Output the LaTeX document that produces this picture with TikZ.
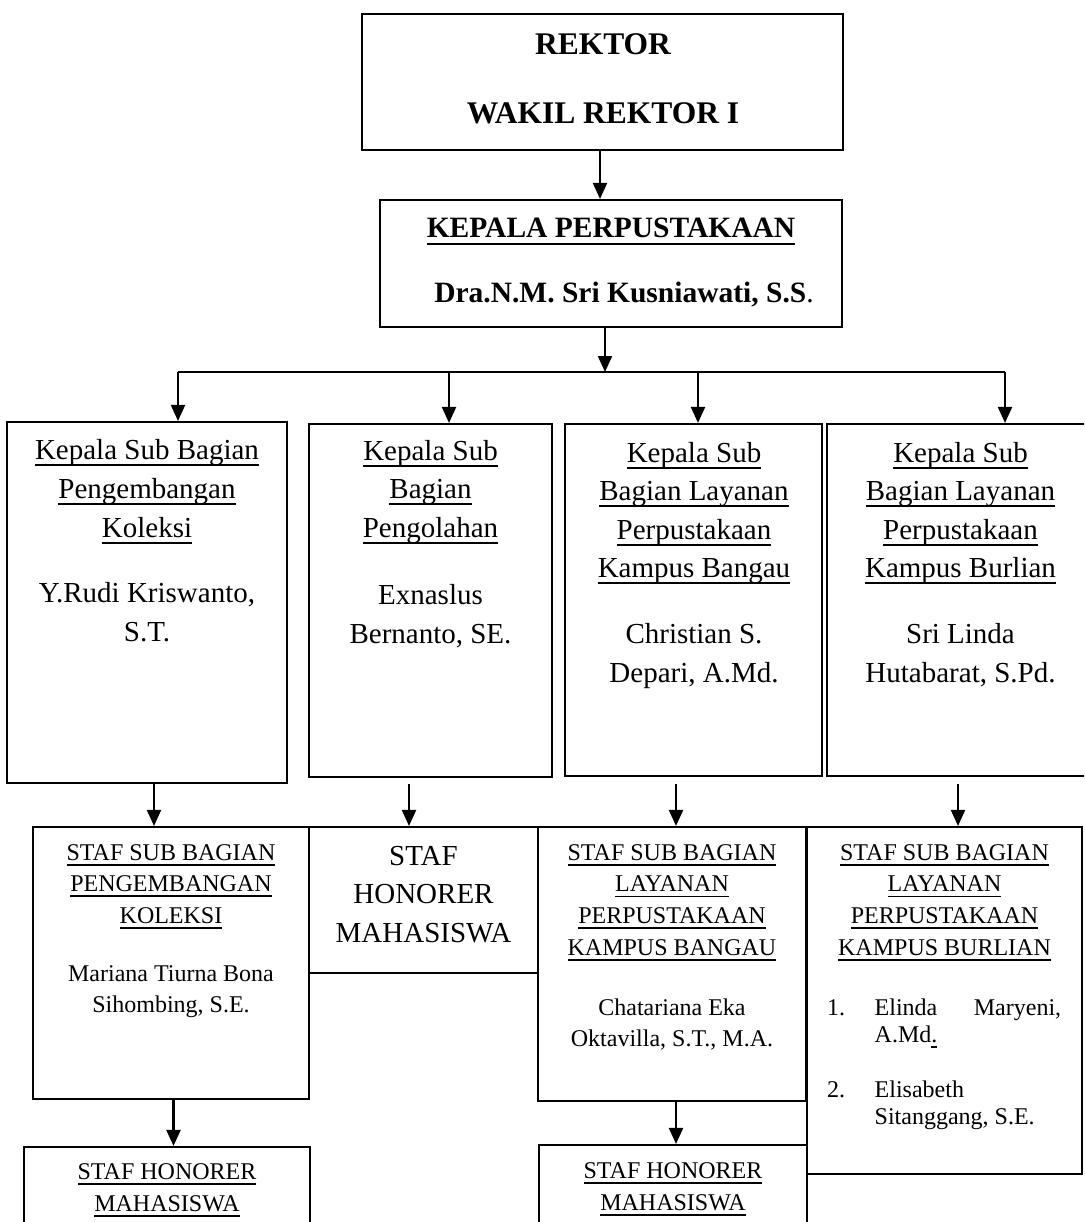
\documentclass[tikz,border=0pt]{standalone}
\usepackage{fontspec}
\setmainfont{Liberation Serif}
\usetikzlibrary{arrows.meta}
\newcommand\fsz[2]{\fontsize{#1}{#2}\selectfont}
\newcommand\uln[1]{\leavevmode\begingroup\setbox0=\hbox{#1}\rlap{\rule[-0.24em]{\wd0}{0.075em}}\box0\endgroup}
\tikzset{
  box/.style={draw, rectangle, line width=2.1pt, inner sep=0pt},
  arr/.style={line width=2.1pt, -{Triangle[length=16pt,width=14pt]}},
  conn/.style={line width=2.1pt},
  txt/.style={anchor=base, inner sep=0pt},
}
\begin{document}
\begin{tikzpicture}[x=1pt,y=-1pt]
\useasboundingbox (0,0) rectangle (1084,1222);
\clip (0,0) rectangle (1084,1222);

% boxes
\node[box, minimum width=481pt, minimum height=136pt] (rek) at (602.5,82) {};
\node[box, minimum width=462pt, minimum height=127pt] (kep) at (611,263.5) {};
\node[box, minimum width=280pt, minimum height=361pt] (k1) at (147,602.5) {};
\node[box, minimum width=243pt, minimum height=353pt] (k2) at (430.5,600.5) {};
\node[box, minimum width=257pt, minimum height=352pt] (k3) at (693.5,600) {};
\node[box, minimum width=267pt, minimum height=352pt] (k4) at (960.5,600) {};
\node[box, minimum width=276pt, minimum height=272pt] (s1) at (171,963) {};
\node[box, minimum width=229pt, minimum height=146pt] (s2) at (423.5,900) {};
\node[box, minimum width=268pt, minimum height=274pt] (s3) at (672,964) {};
\node[box, minimum width=275pt, minimum height=347pt] (s4) at (944.5,1000.5) {};
\node[box, minimum width=286pt, minimum height=113pt] (h1) at (167,1203.5) {};
\node[box, minimum width=268pt, minimum height=115pt] (h3) at (673,1202.5) {};

% texts
\node[txt] (trek) at (603,55) {\parbox[t]{470pt}{\centering\fsz{31.5}{69}\bfseries REKTOR\\WAKIL REKTOR I}};
\node[txt] (tkep) at (611,238) {\parbox[t]{460pt}{\centering\fsz{29.5}{65}\bfseries\uln{KEPALA PERPUSTAKAAN}\\\hspace*{26pt}Dra.N.M. Sri Kusniawati, S.S{\mdseries .}}};
\node[txt] (tk1) at (147,459) {\parbox[t]{300pt}{\centering\fsz{29}{39}\uln{Kepala Sub Bagian}\\\uln{Pengembangan}\\\uln{Koleksi}\\[26pt]Y.Rudi Kriswanto,\\S.T.}};
\node[txt] (tk2) at (430.5,460) {\parbox[t]{300pt}{\centering\fsz{29}{38.5}\uln{Kepala Sub}\\\uln{Bagian}\\\uln{Pengolahan}\\[29pt]Exnaslus\\Bernanto, SE.}};
\node[txt] (tk3) at (694,462) {\parbox[t]{300pt}{\centering\fsz{29}{38.5}\uln{Kepala Sub}\\\uln{Bagian Layanan}\\\uln{Perpustakaan}\\\uln{Kampus Bangau}\\[27.5pt]Christian S.\\Depari, A.Md.}};
\node[txt] (tk4) at (960.5,462) {\parbox[t]{300pt}{\centering\fsz{29}{38.5}\uln{Kepala Sub}\\\uln{Bagian Layanan}\\\uln{Perpustakaan}\\\uln{Kampus Burlian}\\[27.5pt]Sri Linda\\Hutabarat, S.Pd.}};
\node[txt] (ts1) at (171,860) {\parbox[t]{300pt}{\centering\fsz{24}{31.5}\uln{STAF SUB BAGIAN}\\\uln{PENGEMBANGAN}\\\uln{KOLEKSI}\\[26.5pt]Mariana Tiurna Bona\\Sihombing, S.E.}};
\node[txt] (ts2) at (423.5,865) {\parbox[t]{300pt}{\centering\fsz{29}{38.5}STAF\\HONORER\\MAHASISWA}};
\node[txt] (ts3) at (672,860) {\parbox[t]{300pt}{\centering\fsz{24}{31.7}\uln{STAF SUB BAGIAN}\\\uln{LAYANAN}\\\uln{PERPUSTAKAAN}\\\uln{KAMPUS BANGAU}\\[28.3pt]Chatariana Eka\\Oktavilla, S.T., M.A.}};
\node[txt] (ts4) at (944.5,860) {\parbox[t]{300pt}{\centering\fsz{24}{31.7}\uln{STAF SUB BAGIAN}\\\uln{LAYANAN}\\\uln{PERPUSTAKAAN}\\\uln{KAMPUS BURLIAN}}};
\node[anchor=base west, inner sep=0pt] (tlist) at (827,1015) {\parbox[t]{234pt}{\fsz{24}{27}\makebox[47.5pt][l]{1.}Elinda\hfill Maryeni,\\\hspace*{47.5pt}A.Md\uln{.}\\[28pt]\makebox[47.5pt][l]{2.}Elisabeth\\\hspace*{47.5pt}Sitanggang, S.E.}};
\node[txt] (th1) at (167,1179) {\parbox[t]{300pt}{\centering\fsz{24}{32.5}\uln{STAF HONORER}\\\uln{MAHASISWA}}};
\node[txt] (th3) at (673,1178) {\parbox[t]{300pt}{\centering\fsz{24}{32}\uln{STAF HONORER}\\\uln{MAHASISWA}}};

% connectors
\coordinate (c0) at (600,0);
\draw[arr] (rek.south -| c0) -- (kep.north -| c0);
\coordinate (j) at (605,372);
\coordinate (j1) at (178,372);
\coordinate (j2) at (449,372);
\coordinate (j3) at (698,372);
\coordinate (j4) at (1005,372);
\draw[arr] (kep.south -| j) -- (j);
\draw[conn] (j1) -- (j4);
\draw[arr] (j1) -- (j1 |- k1.north);
\draw[arr] (j2) -- (j2 |- k2.north);
\draw[arr] (j3) -- (j3 |- k3.north);
\draw[arr] (j4) -- (j4 |- k4.north);

\coordinate (d1) at (154,0);
\coordinate (d2) at (409,0);
\coordinate (d3) at (676,0);
\coordinate (d4) at (958,0);
\draw[arr] (k1.south -| d1) -- (s1.north -| d1);
\draw[arr, shorten <=6pt] (k2.south -| d2) -- (s2.north -| d2);
\draw[arr, shorten <=7pt] (k3.south -| d3) -- (s3.north -| d3);
\draw[arr, shorten <=7pt] (k4.south -| d4) -- (s4.north -| d4);

\coordinate (e1) at (173.5,0);
\coordinate (e3) at (676,0);
\draw[arr] (s1.south -| e1) -- (h1.north -| e1);
\draw[arr] (s3.south -| e3) -- (h3.north -| e3);
\end{tikzpicture}
\end{document}
